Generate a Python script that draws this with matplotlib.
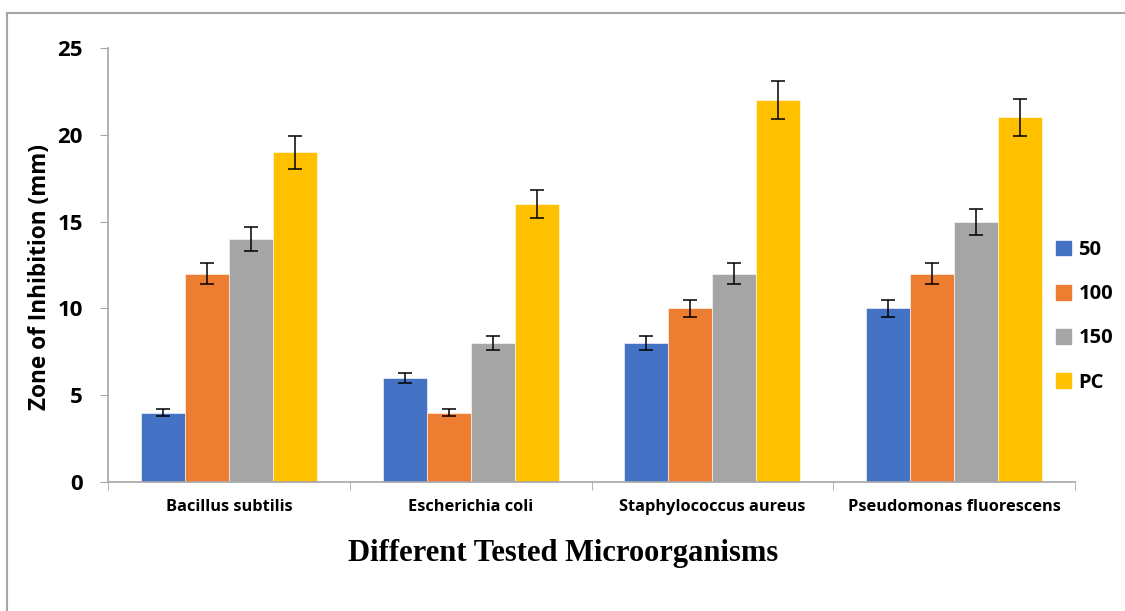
import numpy as np
import matplotlib
matplotlib.use("Agg")
import matplotlib.pyplot as plt
from matplotlib.lines import Line2D
from matplotlib.patches import Patch

# data
organisms = ["Bacillus subtilis", "Escherichia coli", "Staphylococcus aureus", "Pseudomonas fluorescens"]
series = ["50", "100", "150", "PC"]
v50 = [4, 6, 8, 10]
v100 = [12, 4, 10, 12]
v150 = [14, 8, 12, 15]
vpc = [19, 16, 22, 21]
e50 = [0.2, 0.3, 0.4, 0.5]
e100 = [0.6, 0.2, 0.5, 0.6]
e150 = [0.7, 0.4, 0.6, 0.75]
epc = [0.95, 0.8, 1.1, 1.05]
colors = ["#4472C4", "#ED7D31", "#A5A5A5", "#FFC000"]
yticks = [0, 5, 10, 15, 20, 25]

fig = plt.figure(figsize=(11.25, 6.11), dpi=100)
ax = fig.add_axes([108/1125, 1-482/611, (1075-108)/1125, (482-48)/611])

x = np.arange(len(organisms))
w = 0.182
vals = [v50, v100, v150, vpc]
errs = [e50, e100, e150, epc]
for i in range(4):
    pos = x + (i - 1.5)*w
    ax.bar(pos, vals[i], w, color=colors[i], edgecolor="white", linewidth=0.4, zorder=2)
    ax.errorbar(pos, vals[i], yerr=errs[i], fmt="none", ecolor="black",
                elinewidth=1.1, capsize=5, capthick=1.1, zorder=3)

ax.set_xlim(-0.5, 3.5)
ax.set_ylim(0, 25)
ax.set_yticks(yticks)
ax.set_yticklabels([str(t) for t in yticks], fontsize=16, fontweight="bold", family="Open Sans")
ax.set_xticks(x)
ax.set_xticklabels(organisms, fontsize=11.8, fontweight="bold", family="Open Sans")
ax.set_xticks(np.arange(-0.5, 4.0, 1), minor=True)
ax.tick_params(axis="x", which="major", length=0, pad=12)
ax.tick_params(axis="x", which="minor", length=6, color="#a6a6a6", direction="out")
ax.tick_params(axis="y", length=6, color="#a6a6a6", pad=12)
for s in ["top", "right"]:
    ax.spines[s].set_visible(False)
for s in ["left", "bottom"]:
    ax.spines[s].set_color("#a6a6a6")
    ax.spines[s].set_linewidth(1.2)

ax.set_ylabel("Zone of Inhibition (mm)", fontsize=16.3, fontweight="bold", family="Open Sans")
ax.yaxis.set_label_coords(-0.058, 0.472)
fig.text(563/1125, 1-553/611, "Different Tested Microorganisms", ha="center", va="center",
         fontsize=22, fontweight="bold", family="Liberation Serif")

handles = [Patch(color=c) for c in colors]
leg = fig.legend(handles, series, loc="upper left", bbox_to_anchor=(1038/1125, 1-222/611),
                 frameon=False, prop={"family": "Open Sans", "weight": "bold", "size": 14.5},
                 handlelength=0.75, handleheight=0.75, handletextpad=0.35, labelspacing=1.2)

# outer frame (top and left edges visible)
fig.add_artist(Line2D([7/1125, 1], [1-13/611, 1-13/611], color="#a6a6a6", lw=1.5, transform=fig.transFigure))
fig.add_artist(Line2D([7/1125, 7/1125], [0, 1-13/611], color="#a6a6a6", lw=1.5, transform=fig.transFigure))

fig.savefig("out.png", dpi=100)
